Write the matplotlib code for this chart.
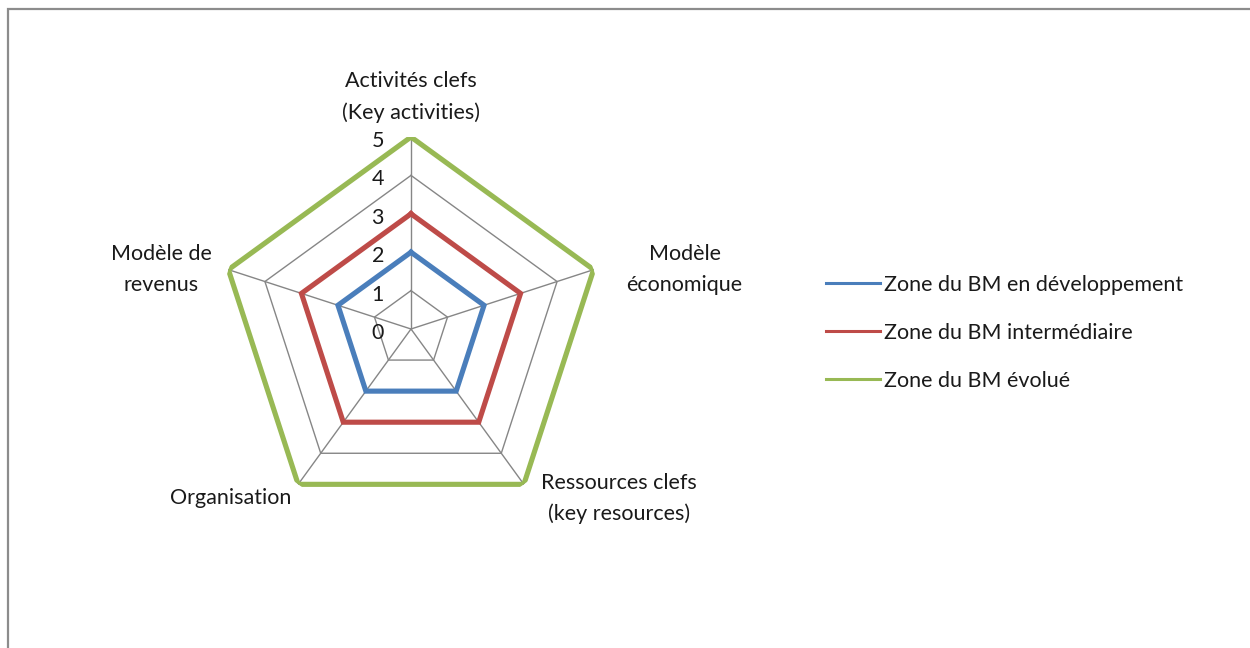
import numpy as np
import matplotlib
matplotlib.use('Agg')
import matplotlib.pyplot as plt
from matplotlib.lines import Line2D
from matplotlib.patches import Rectangle

plt.rcParams['font.family'] = ['Lato', 'DejaVu Sans']

# Data
categories = ['Activités clefs\n(Key activities)', 'Modèle\néconomique',
              'Ressources clefs\n(key resources)', 'Organisation', 'Modèle de\nrevenus']
series_names = ['Zone du BM en développement', 'Zone du BM intermédiaire', 'Zone du BM évolué']
dev_values = [2, 2, 2, 2, 2]
inter_values = [3, 3, 3, 3, 3]
evol_values = [5, 5, 5, 5, 5]
r_ticks = [0, 1, 2, 3, 4, 5]

colors = ['#4A7EBB', '#BE4B48', '#98B954']
grid_color = '#868686'
fs = 15.5

fig = plt.figure(figsize=(12.5, 6.48), dpi=100)

# outer chart frame (runs off the right and bottom edges)
fig.patches.append(Rectangle((8 / 1250, -0.2), 1.2, 1.2 - 9 / 648,
                             transform=fig.transFigure, fill=False,
                             edgecolor='#8c8c8c', lw=1.6))

# radar axes: centre at (411, 329) px, radius 192 px
cx, cy, rad = 411, 329, 192
ax = fig.add_axes([(cx - rad) / 1250, (648 - cy - rad) / 648, 2 * rad / 1250, 2 * rad / 648],
                  projection='polar')
ax.set_theta_offset(np.pi / 2)
ax.set_theta_direction(-1)
ax.set_ylim(0, 5)
ax.grid(False)
ax.spines['polar'].set_visible(False)
ax.set_xticks([])
ax.set_yticks([])
ax.patch.set_alpha(0)

n = len(categories)
angles = np.linspace(0, 2 * np.pi, n, endpoint=False)
closed = np.concatenate([angles, angles[:1]])

# polygon grid and spokes
for lvl in r_ticks[1:]:
    ax.plot(closed, [lvl] * (n + 1), color=grid_color, lw=1.0, zorder=1)
for a in angles:
    ax.plot([a, a], [0, r_ticks[-1]], color=grid_color, lw=1.0, zorder=1)

# series
for vals, c in zip([dev_values, inter_values, evol_values], colors):
    ax.plot(closed, list(vals) + [vals[0]], color=c, lw=3.7, zorder=3,
            solid_joinstyle='miter')

# radial labels
for lvl in r_ticks:
    ax.annotate(str(lvl), (0, lvl), xytext=(-27, -4), textcoords='offset pixels',
                ha='right', va='center', fontsize=fs, color='#1a1a1a')

# category labels
offsets = [(0, 40, 'center'), (91, 0, 'center'), (95, -14, 'center'),
           (-7, -14, 'right'), (-67, 0, 'center')]
for a, lab, (dx, dy, ha) in zip(angles, categories, offsets):
    ax.annotate(lab, (a, 5), xytext=(dx, dy), textcoords='offset pixels',
                ha=ha, va='center', multialignment='center', fontsize=fs,
                color='#1a1a1a', linespacing=1.65)

# legend
handles = [Line2D([], [], color=c, lw=2.2) for c in colors]
fig.legend(handles, series_names, loc='center left',
           bbox_to_anchor=(807 / 1250, 1 - 333 / 648), frameon=False,
           fontsize=fs, handlelength=2.5, handletextpad=0.19,
           labelspacing=1.3, labelcolor='#1a1a1a')

fig.savefig('out.png', dpi=100, facecolor='white')
